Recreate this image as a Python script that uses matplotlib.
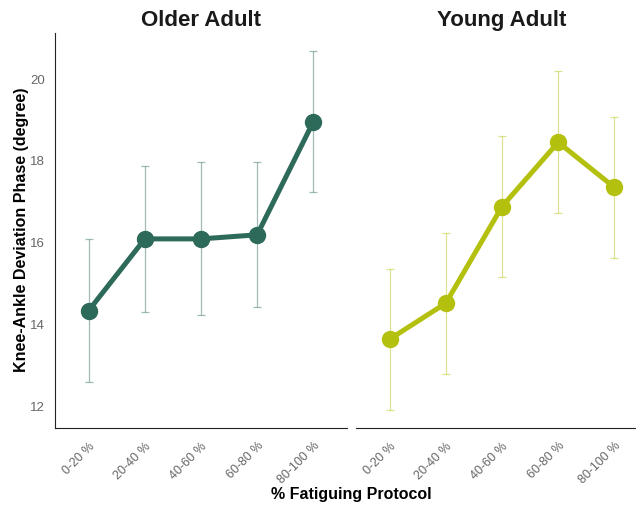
import matplotlib
matplotlib.use("Agg")
import matplotlib.pyplot as plt

plt.rcParams['font.family'] = ['Liberation Sans', 'DejaVu Sans']

categories = ["0-20 %", "20-40 %", "40-60 %", "60-80 %", "80-100 %"]
older_mean = [14.32, 16.07, 16.07, 16.17, 18.93]
older_sd = [1.74, 1.78, 1.87, 1.77, 1.72]
young_mean = [13.62, 14.50, 16.86, 18.43, 17.33]
young_sd = [1.72, 1.72, 1.72, 1.73, 1.72]

panels = [("Older Adult", older_mean, older_sd, "#2D6A5A"),
          ("Young Adult", young_mean, young_sd, "#B4C00E")]

W, H = 636, 506
fig = plt.figure(figsize=(W / 100, H / 100), dpi=100)
ax_left = fig.add_axes([55 / W, 1 - 429 / H, 292 / W, 395 / H])
ax_right = fig.add_axes([356 / W, 1 - 429 / H, 292 / W, 395 / H], sharey=ax_left)

x = list(range(len(categories)))
for ax, (title, mean, sd, color) in zip([ax_left, ax_right], panels):
    ax.errorbar(x, mean, yerr=sd, fmt="none", ecolor=color, alpha=0.45,
                elinewidth=0.9, capsize=3, capthick=0.9, zorder=1)
    ax.plot(x, mean, color=color, linewidth=3.6, marker="o", markersize=11.5,
            solid_capstyle="round", zorder=2)
    ax.set_title(title, fontsize=16, fontweight="bold", pad=6, color="#1a1a1a")
    ax.set_xlim(-0.6, 4.6)
    ax.set_xticks(x)
    ax.set_xticklabels(categories, rotation=45, ha="right", rotation_mode="anchor",
                       fontsize=9, color="#666666")
    ax.tick_params(axis="x", length=0, pad=8)
    for s in ["top", "right"]:
        ax.spines[s].set_visible(False)
    ax.spines["bottom"].set_color("#222222")
    ax.spines["left"].set_color("#222222")

ax_left.set_ylim(11.45, 21.1)
ax_left.set_yticks([12, 14, 16, 18, 20])
ax_left.tick_params(axis="y", length=0, labelsize=9.5, labelcolor="#666666", pad=7)
ax_left.set_ylabel("Knee-Ankle Deviation Phase (degree)", fontsize=11.5,
                   fontweight="bold", va="center")
# centre of the label sits at about x=22, y=230 px
ax_left.yaxis.set_label_coords(-(55 - 22) / 292, (429 - 230) / 395)
ax_right.spines["left"].set_visible(False)
ax_right.tick_params(axis="y", length=0, labelleft=False)

fig.text(351 / W, 1 - 495 / H, "% Fatiguing Protocol", ha="center", va="center",
         fontsize=11.5, fontweight="bold")

fig.savefig("out.png", dpi=100)
